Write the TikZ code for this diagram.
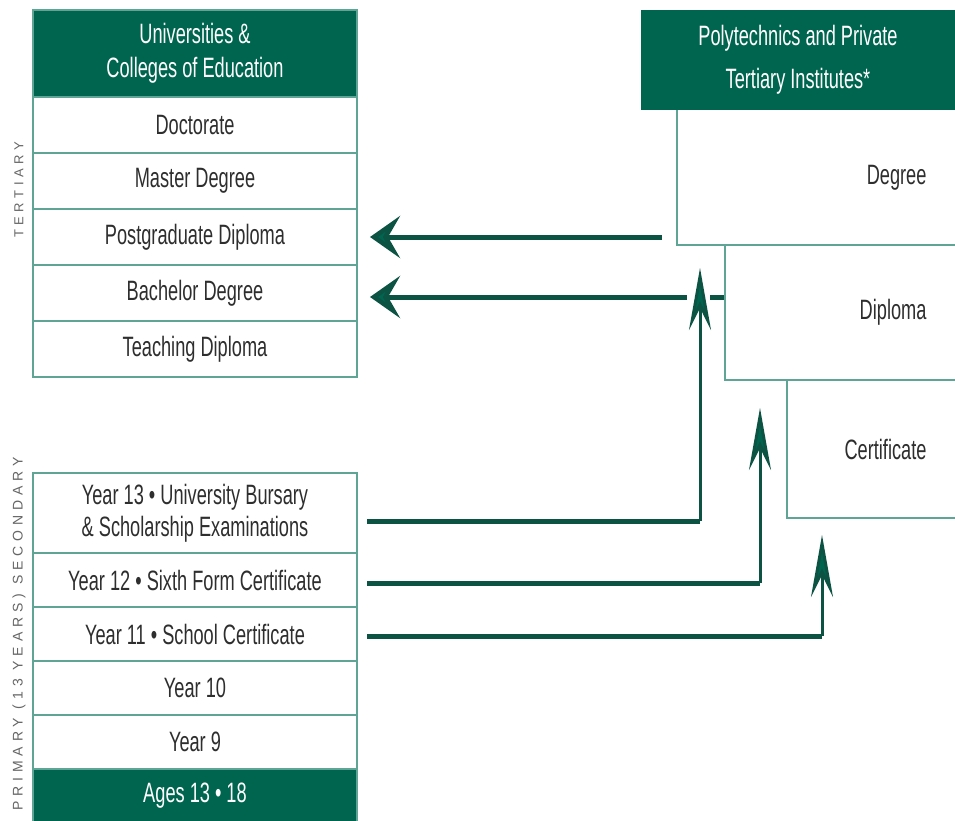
\documentclass[tikz,border=0pt]{standalone}
\usepackage{fontspec}
\setmainfont{Liberation Sans}[FakeStretch=0.65]
\newfontfamily\sidefont{Liberation Sans}[LetterSpace=35]
\usepackage{tikz}
\usetikzlibrary{positioning}
\usetikzlibrary{arrows.meta}
\definecolor{nzgreen}{HTML}{00654F}
\definecolor{nzteal}{HTML}{5EA596}
\definecolor{nzline}{HTML}{0C5343}
\definecolor{nztext}{HTML}{2E2E2E}
\definecolor{nzside}{HTML}{666666}
\tikzset{%
  stage/.style = {rectangle,draw=nzteal,line width=2pt,minimum width=324pt,
        minimum height=56pt,inner sep=0pt,outer sep=0pt,text=nztext,
        font=\fontsize{28}{32}\selectfont,align=center},
  stagehead/.style = {stage,fill=nzgreen,text=white},
  tierbox/.style = {rectangle,anchor=north west,inner sep=0pt,outer sep=0pt},
  tierlab/.style = {text=nztext,font=\fontsize{28}{30}\selectfont,anchor=east},
  tieredge/.style = {draw=nzteal,line width=2pt},
  sidelab/.style = {rotate=90,text=nzside,inner sep=0pt},
  hline/.style = {nzline,line width=5pt},
  vline/.style = {nzline,line width=3pt},
  harrow/.style = {hline,-{Stealth[length=30pt,width=42pt,inset=12pt,fill=nzgreen]}},
  varrow/.style = {vline,-{Stealth[length=62pt,width=22pt,inset=22pt,fill=nzgreen]}}
}
\begin{document}
\begin{tikzpicture}[x=1pt,y=-1pt]
\useasboundingbox[fill=white] (0,0) rectangle (955,821);

\node[stagehead,minimum height=87pt,anchor=north west,font=\fontsize{28}{34}\selectfont] (uni) at (33,10) {Universities \&\\Colleges of Education};
\node[stage] (doc) [below=0pt of uni] {Doctorate};
\node[stage] (mas) [below=0pt of doc] {Master Degree};
\node[stage] (pgd) [below=0pt of mas] {Postgraduate Diploma};
\node[stage] (bach) [below=0pt of pgd] {Bachelor Degree};
\node[stage] (teach) [below=0pt of bach] {Teaching Diploma};

\node[stage,minimum height=80pt,anchor=north west] (y13) at (33,473) {Year 13 • University Bursary\\\& Scholarship Examinations};
\node[stage,minimum height=54pt] (y12) [below=0pt of y13] {Year 12 • Sixth Form Certificate};
\node[stage,minimum height=54pt] (y11) [below=0pt of y12] {Year 11 • School Certificate};
\node[stage,minimum height=54pt] (y10) [below=0pt of y11] {Year 10};
\node[stage,minimum height=54pt] (y9) [below=0pt of y10] {Year 9};
\node[stagehead,minimum height=53pt] (ages) [below=0pt of y9] {Ages 13 • 18};

\node[sidelab,font=\sidefont\fontsize{13}{13}\selectfont] (ter) at (19,190) {TERTIARY};
\node[sidelab,anchor=east,font=\sidefont\fontsize{14}{14}\selectfont] (sec) at (19,457) {PRIMARY (13 YEARS) SECONDARY};

\node[stagehead,draw=none,minimum width=314pt,minimum height=100pt,anchor=north west,font=\fontsize{28}{43}\selectfont] (poly) at (641,10) {Polytechnics and Private\\Tertiary Institutes*};
\node[tierbox,minimum width=278pt,minimum height=135pt] (deg) at (677,110) {};
\node[tierbox,minimum width=230pt,minimum height=135pt] (dip) at (725,245) {};
\node[tierbox,minimum width=168pt,minimum height=138pt] (cert) at (787,380) {};
\node[tierlab] (degl) at ([xshift=-25pt]deg.east) {Degree};
\node[tierlab] (dipl) at ([xshift=-25pt]dip.east) {Diploma};
\node[tierlab] (certl) at ([xshift=-25pt]cert.east) {Certificate};
\draw[tieredge] (deg.north west) -- (deg.south west) -- (deg.south east);
\draw[tieredge] (dip.north west) -- (dip.south west) -- (dip.south east);
\draw[tieredge] (cert.north west) -- (cert.south west) -- (cert.south east);

\coordinate (t13) at (700,268);
\coordinate (t12) at (760,408);
\coordinate (t11) at (822,535);

\draw[harrow,shorten >=13pt] ([xshift=-15pt]deg.west |- pgd.east) -- (pgd.east);
\draw[harrow,shorten >=13pt] ([xshift=-13pt,yshift=-4pt]t13 |- bach.east) -- ([yshift=-4pt]bach.east);
\draw[hline] ([xshift=-1pt,yshift=-4pt]dip.west |- bach.east) -- ++(-14,0);

\draw[hline] ([xshift=10pt,yshift=-8pt]y13.east) -- ([yshift=-8pt]y13.east -| t13);
\draw[varrow] ([yshift=-8pt]y13.east -| t13) -- (t13);
\draw[hline] ([xshift=10pt,yshift=-3pt]y12.east) -- ([yshift=-3pt]y12.east -| t12);
\draw[varrow] ([yshift=-3pt]y12.east -| t12) -- (t12);
\draw[hline] ([xshift=10pt,yshift=-2pt]y11.east) -- ([yshift=-2pt]y11.east -| t11);
\draw[varrow] ([yshift=-2pt]y11.east -| t11) -- (t11);
\end{tikzpicture}
\end{document}
